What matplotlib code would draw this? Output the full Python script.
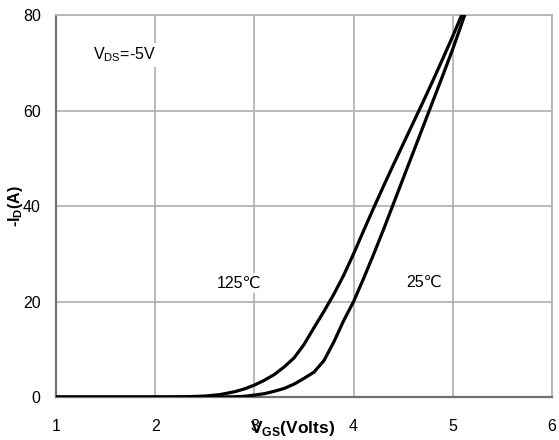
import matplotlib.pyplot as plt

plt.rcParams["font.family"] = ["Liberation Sans", "DejaVu Sans"]

# Transfer characteristics
vgs_125 = [1.0, 2.0, 2.3, 2.5, 2.65, 2.8, 2.9, 3.0, 3.1, 3.2, 3.3, 3.4, 3.5, 3.6,
           3.7, 3.8, 3.9, 4.0, 4.1, 4.2, 4.3, 4.4, 4.5, 4.6, 4.7, 4.8, 4.9, 5.0, 5.09]
id_125 = [0.0, 0.0, 0.05, 0.2, 0.5, 1.1, 1.7, 2.5, 3.5, 4.7, 6.3, 8.2, 11.0, 14.5,
          17.9, 21.5, 25.5, 30.0, 34.8, 39.5, 44.1, 48.6, 53.0, 57.4, 61.8, 66.3, 70.9, 75.6, 80.0]

vgs_25 = [1.0, 2.6, 2.8, 2.9, 3.0, 3.1, 3.2, 3.3, 3.4, 3.5, 3.6, 3.7, 3.8, 3.9,
          4.0, 4.1, 4.2, 4.3, 4.4, 4.5, 4.6, 4.7, 4.8, 4.9, 5.0, 5.12]
id_25 = [0.0, 0.0, 0.05, 0.15, 0.4, 0.7, 1.2, 1.8, 2.7, 3.9, 5.2, 7.6, 11.5, 16.0,
         20.0, 24.8, 29.8, 35.0, 40.4, 45.8, 51.2, 56.6, 62.0, 67.4, 72.9, 80.0]

x_ticks = [1, 2, 3, 4, 5, 6]
y_ticks = [0, 20, 40, 60, 80]

fig = plt.figure(figsize=(5.59, 4.40), dpi=100)
ax = fig.add_axes([0.1002, 0.0977, 0.8873, 0.8682])

ax.plot(vgs_125, id_125, color="black", linewidth=2.3, solid_joinstyle="round", zorder=3)
ax.plot(vgs_25, id_25, color="black", linewidth=2.3, solid_joinstyle="round", zorder=3)

ax.set_xlim(1, 6)
ax.set_ylim(0, 80)
ax.set_xticks(x_ticks)
ax.set_yticks(y_ticks)
ax.tick_params(length=0, labelsize=11.5)
ax.tick_params(axis="x", pad=16)
ax.tick_params(axis="y", pad=11)
ax.grid(True, color="#b4b4b4", linewidth=1.3)
ax.set_axisbelow(True)

for side in ["top", "right"]:
    ax.spines[side].set_color("#b4b4b4")
    ax.spines[side].set_linewidth(1.3)
for side in ["left", "bottom"]:
    ax.spines[side].set_color("#707070")
    ax.spines[side].set_linewidth(1.6)

box = dict(facecolor="white", edgecolor="none", pad=2)
ax.text(1.37, 71.6, r"V$_{\mathregular{DS}}$=-5V", fontsize=11.5, ha="left", va="center", bbox=box, zorder=2)
ax.text(2.84, 23.9, "125\u2103", fontsize=11.5, ha="center", va="center", bbox=box, zorder=2)
ax.text(4.71, 24.1, "25\u2103", fontsize=11.5, ha="center", va="center", bbox=box, zorder=2)

fig.text(0.027, 0.532, r"-I$_{\mathregular{D}}$(A)", rotation=90, fontsize=11.5,
         fontweight="bold", ha="center", va="center")
fig.text(0.524, 0.004, r"V$_{\mathregular{GS}}$(Volts)", fontsize=12.5,
         fontweight="bold", ha="center", va="bottom")

fig.savefig("out.png", dpi=100)
